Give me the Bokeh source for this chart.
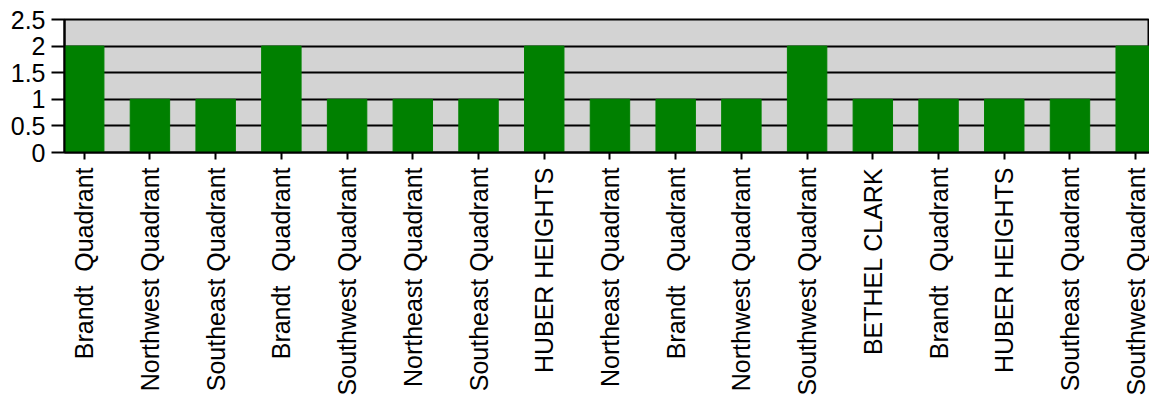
import math
from bokeh.plotting import figure
from bokeh.models import FixedTicker, Range1d, ColumnDataSource
from bokeh.embed import file_html
from bokeh.resources import INLINE

labels = ["Brandt\u00a0 Quadrant", "Northwest Quadrant", "Southeast Quadrant", "Brandt\u00a0 Quadrant",
          "Southwest Quadrant", "Northeast Quadrant", "Southeast Quadrant", "HUBER HEIGHTS",
          "Northeast Quadrant", "Brandt\u00a0 Quadrant", "Northwest Quadrant", "Southwest Quadrant",
          "BETHEL CLARK", "Brandt\u00a0 Quadrant", "HUBER HEIGHTS", "Southeast Quadrant",
          "Southwest Quadrant"]
values = [2, 1, 1, 2, 1, 1, 1, 2, 1, 1, 1, 2, 1, 1, 1, 1, 2]
y_ticks = [0, 0.5, 1, 1.5, 2, 2.5]
y_tick_labels = ["0", "0.5", "1", "1.5", "2", "2.5"]

xs = list(range(len(labels)))
src = ColumnDataSource(dict(x=xs, top=values))

p = figure(width=1149, height=403, output_backend="svg", toolbar_location=None,
           x_range=Range1d(-0.3, 16.21), y_range=Range1d(0, 2.5),
           min_border_left=64, min_border_right=0, min_border_top=19, min_border_bottom=251)

p.vbar(x="x", top="top", width=0.6, bottom=0, source=src,
       fill_color="#008000", line_color="#008000")

p.background_fill_color = "#d3d3d3"
p.border_fill_color = "white"
p.outline_line_color = "black"
p.outline_line_width = 2

p.xgrid.visible = False
p.ygrid.grid_line_color = "black"
p.ygrid.grid_line_width = 2
p.ygrid.ticker = FixedTicker(ticks=y_ticks)

p.yaxis.ticker = FixedTicker(ticks=y_ticks)
p.yaxis.major_label_overrides = {t: l for t, l in zip(y_ticks, y_tick_labels)}
p.yaxis.axis_line_color = "black"
p.yaxis.axis_line_width = 2
p.yaxis.major_tick_line_width = 2
p.yaxis.major_tick_out = 13
p.yaxis.major_tick_in = 0
p.yaxis.minor_tick_line_color = None
p.yaxis.major_label_text_font = "Liberation Sans"
p.yaxis.major_label_text_font_size = "25px"
p.yaxis.major_label_text_color = "black"
p.yaxis.major_label_standoff = 6

p.xaxis.ticker = FixedTicker(ticks=xs)
p.xaxis.major_label_overrides = {i: l for i, l in zip(xs, labels)}
p.xaxis.major_label_orientation = math.pi / 2
p.xaxis.axis_line_color = "black"
p.xaxis.axis_line_width = 2
p.xaxis.major_tick_line_width = 2
p.xaxis.major_tick_out = 7
p.xaxis.major_tick_in = 0
p.xaxis.minor_tick_line_color = None
p.xaxis.major_label_text_font = "Liberation Sans"
p.xaxis.major_label_text_font_size = "25px"
p.xaxis.major_label_text_color = "black"
p.xaxis.major_label_standoff = 8

open("out.html", "w").write(file_html(p, INLINE))
